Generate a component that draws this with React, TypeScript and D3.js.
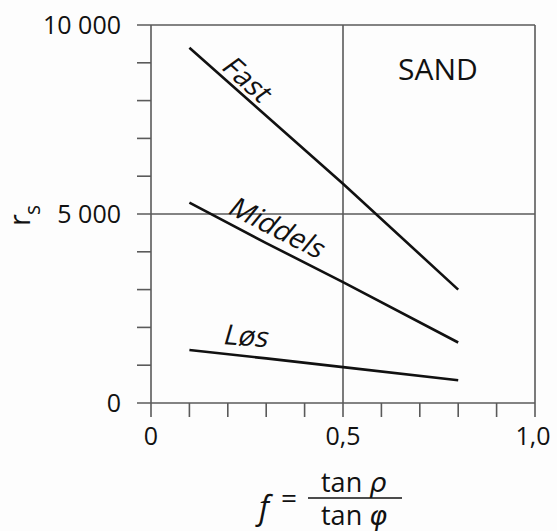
import React from "react";
import * as d3 from "d3";

const xTicksMajor = [0, 0.5, 1.0];
const xTickLabels = ["0", "0,5", "1,0"];
const xTicksMinor = [0.1, 0.2, 0.3, 0.4, 0.6, 0.7, 0.8, 0.9];
const yTicksMajor = [0, 5000, 10000];
const yTickLabels = ["0", "5 000", "10 000"];
const yTicksMinor = [1000, 2000, 3000, 4000, 6000, 7000, 8000, 9000];

const fastX = [0.1, 0.5, 0.8];
const fastY = [9400, 5800, 3000];
const middelsX = [0.1, 0.3, 0.5, 0.8];
const middelsY = [5300, 4230, 3200, 1600];
const losX = [0.1, 0.3, 0.5, 0.8];
const losY = [1400, 1180, 950, 600];

const series = [
  { name: "Fast", xs: fastX, ys: fastY },
  { name: "Middels", xs: middelsX, ys: middelsY },
  { name: "Løs", xs: losX, ys: losY },
];

export default function App() {
  const W = 557, H = 531;
  const x = d3.scaleLinear().domain([0, 1]).range([151, 535]);
  const y = d3.scaleLinear().domain([0, 10000]).range([403, 25]);
  const line = d3.line<[number, number]>().x(d => x(d[0])).y(d => y(d[1]));
  const frame = "#5a5a5a";
  const font = "'Open Sans', 'DejaVu Sans', sans-serif";
  const tickLen = 14;
  return (
    <svg width={W} height={H} style={{ position: "absolute", left: 0, top: 0, background: "#fff" }} fontFamily={font}>
      <rect width={W} height={H} fill="#fdfdfd" />
      {/* frame and grid */}
      <g stroke={frame} strokeWidth={1.6} fill="none">
        {yTicksMajor.map(v => (
          <line key={"yh" + v} x1={x(0) - tickLen} x2={x(1)} y1={y(v)} y2={y(v)} />
        ))}
        {xTicksMajor.map(v => (
          <line key={"xv" + v} x1={x(v)} x2={x(v)} y1={y(10000)} y2={y(0) + tickLen} />
        ))}
        {yTicksMinor.map(v => (
          <line key={"ym" + v} x1={x(0) - tickLen} x2={x(0)} y1={y(v)} y2={y(v)} />
        ))}
        {xTicksMinor.map(v => (
          <line key={"xm" + v} x1={x(v)} x2={x(v)} y1={y(0)} y2={y(0) + tickLen} />
        ))}
      </g>
      {/* tick labels */}
      <g fontSize={25} fill="#111">
        {yTicksMajor.map((v, i) => (
          <text key={"yl" + v} x={x(0) - tickLen - 16} y={y(v)} dy="0.35em" textAnchor="end">
            {yTickLabels[i]}
          </text>
        ))}
        {xTicksMajor.map((v, i) => (
          <text key={"xl" + v} x={x(v) + (i === 2 ? -2 : 0)} y={445} textAnchor="middle">
            {xTickLabels[i]}
          </text>
        ))}
      </g>
      {/* series lines */}
      <g stroke="#111" strokeWidth={2.6} fill="none">
        {series.map(s => (
          <path key={s.name} d={line(s.xs.map((v, i) => [v, s.ys[i]] as [number, number])) || ""} />
        ))}
      </g>
      {/* series labels */}
      <g fontSize={28} fill="#111">
        <text transform="translate(248,80) rotate(42) skewX(-12)" textAnchor="middle" dy="0.35em">Fast</text>
        <text transform="translate(278,228) rotate(27) skewX(-12)" textAnchor="middle" dy="0.35em">Middels</text>
        <text transform="translate(247,336) rotate(4) skewX(-12)" textAnchor="middle" dy="0.35em">Løs</text>
        <text x={438} y={80} textAnchor="middle" fontSize={30}>SAND</text>
      </g>
      {/* y label */}
      <g transform="translate(30,226) rotate(-90)" fill="#111">
        <text x={0} y={0} fontSize={29}>r</text>
        <text x={11} y={10} fontSize={21}>s</text>
      </g>
      {/* x label */}
      <g fill="#111" fontSize={27}>
        <text x={259} y={519} fontStyle="italic" fontWeight={500} fontSize={32}>f</text>
        <text x={281} y={508} fontSize={28}>=</text>
        <line x1={308} x2={402} y1={498} y2={498} stroke="#111" strokeWidth={1.6} />
        <text x={321} y={492}>tan <tspan fontFamily="'DejaVu Sans', sans-serif" fontStyle="italic" fontWeight={200}>ρ</tspan></text>
        <text x={321} y={525}>tan <tspan fontFamily="'DejaVu Sans', sans-serif" fontStyle="italic" fontWeight={200}>φ</tspan></text>
      </g>
    </svg>
  );
}
